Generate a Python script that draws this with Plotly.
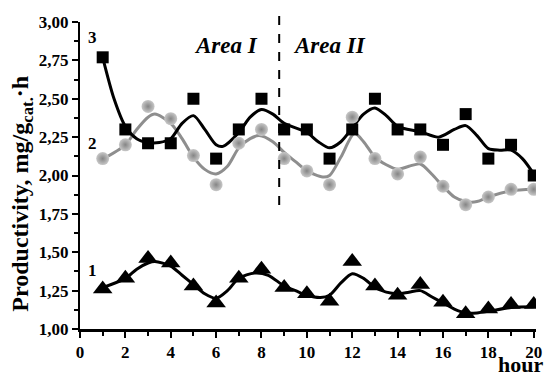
import plotly.graph_objects as go

hours = list(range(1, 21))
s3_vals = [2.77, 2.30, 2.21, 2.21, 2.50, 2.11, 2.30, 2.50, 2.30, 2.30,
           2.11, 2.30, 2.50, 2.30, 2.30, 2.20, 2.40, 2.11, 2.20, 2.00]
s2_vals = [2.11, 2.20, 2.45, 2.37, 2.13, 1.94, 2.21, 2.30, 2.11, 2.03,
           1.94, 2.38, 2.11, 2.01, 2.12, 1.93, 1.81, 1.86, 1.91, 1.91]
s1_vals = [1.26, 1.33, 1.46, 1.43, 1.28, 1.17, 1.33, 1.39, 1.27, 1.23,
           1.18, 1.44, 1.28, 1.22, 1.29, 1.175, 1.10, 1.13, 1.16, 1.16]

c3_x = [1, 1.5, 2, 2.5, 3, 3.5, 4, 4.5, 5, 5.5, 6, 6.3, 7, 7.5, 8, 8.5, 9, 10, 10.5, 11,
        11.5, 12, 12.5, 13, 13.5, 14, 15, 15.8, 16.5, 17, 17.5, 18, 18.5, 19, 19.5, 20]
c3_y = [2.77, 2.50, 2.32, 2.24, 2.215, 2.215, 2.24, 2.34, 2.39, 2.30, 2.20, 2.19, 2.28, 2.38,
        2.43, 2.40, 2.34, 2.28, 2.22, 2.18, 2.22, 2.31, 2.40, 2.44, 2.39, 2.32, 2.285, 2.25,
        2.30, 2.325, 2.26, 2.175, 2.165, 2.165, 2.11, 2.01]

c2_x = [1, 2, 2.5, 3, 3.3, 4, 4.5, 5, 5.5, 6, 6.5, 7, 7.5, 7.9, 8.5, 9, 9.5, 10, 10.7, 11,
        11.5, 12.1, 12.5, 13, 13.5, 14, 14.5, 15, 15.5, 16, 16.5, 17, 17.5, 18, 19, 20]
c2_y = [2.107, 2.20, 2.30, 2.38, 2.40, 2.34, 2.24, 2.12, 2.04, 2.01, 2.06, 2.18, 2.24, 2.26,
        2.22, 2.15, 2.09, 2.03, 1.99, 2.00, 2.12, 2.275, 2.22, 2.12, 2.07, 2.04, 2.06, 2.075,
        2.01, 1.93, 1.86, 1.83, 1.83, 1.86, 1.90, 1.91]

c1_x = [1, 2, 2.5, 3, 3.3, 4, 4.5, 5, 5.5, 6, 6.5, 7, 7.7, 8.3, 9, 9.5, 10, 10.6, 11, 11.5,
        12, 12.5, 13, 13.5, 14, 14.5, 15, 15.5, 16, 16.5, 17, 17.5, 18, 19, 20]
c1_y = [1.27, 1.33, 1.39, 1.43, 1.44, 1.41, 1.35, 1.29, 1.23, 1.20, 1.25, 1.33, 1.365, 1.35,
        1.28, 1.25, 1.22, 1.205, 1.22, 1.30, 1.36, 1.33, 1.27, 1.24, 1.23, 1.24, 1.25, 1.21,
        1.17, 1.13, 1.105, 1.105, 1.115, 1.14, 1.145]

divider_x = 8.78

serif = "Liberation Serif"
fig = go.Figure()

fig.add_trace(go.Scatter(x=c2_x, y=c2_y, mode="lines", line=dict(color="#8e8e8e", width=3, shape="spline", smoothing=0.8), hoverinfo="skip"))
fig.add_trace(go.Scatter(x=c3_x, y=c3_y, mode="lines", line=dict(color="black", width=3, shape="spline", smoothing=0.8), hoverinfo="skip"))
fig.add_trace(go.Scatter(x=c1_x, y=c1_y, mode="lines", line=dict(color="black", width=3, shape="spline", smoothing=0.8), hoverinfo="skip"))

fig.add_trace(go.Scatter(x=hours, y=s2_vals, mode="markers",
                         marker=dict(symbol="circle", size=13, color="#c8c8c8",
                                     gradient=dict(type="radial", color="#858585"),
                                     line=dict(width=0))))
fig.add_trace(go.Scatter(x=hours, y=s3_vals, mode="markers",
                         marker=dict(symbol="square", size=12, color="black", line=dict(width=0))))
fig.add_trace(go.Scatter(x=hours, y=s1_vals, mode="markers",
                         marker=dict(symbol="triangle-up", size=17, color="black", line=dict(width=0))))

fig.add_shape(type="line", xref="x", yref="paper", x0=divider_x, x1=divider_x, y0=0.404, y1=1.023,
              line=dict(color="black", width=2, dash="dash"))

bold = dict(family=serif, size=17, color="black", weight="bold")
anns = [
    dict(x=0.57, y=2.90, text="3", xref="x", yref="y", showarrow=False, font=bold),
    dict(x=0.57, y=2.21, text="2", xref="x", yref="y", showarrow=False, font=bold),
    dict(x=0.57, y=1.38, text="1", xref="x", yref="y", showarrow=False, font=bold),
    dict(x=6.43, y=2.85, text="<i>Area I</i>", xref="x", yref="y", showarrow=False,
         font=dict(family=serif, size=23, color="black", weight="bold")),
    dict(x=11.0, y=2.85, text="<i>Area II</i>", xref="x", yref="y", showarrow=False,
         font=dict(family=serif, size=23, color="black", weight="bold")),
    dict(x=1.02, y=-0.116, text="hour", xref="paper", yref="paper", xanchor="right", yanchor="middle",
         showarrow=False, font=dict(family=serif, size=22, color="black", weight="bold")),
    dict(x=-0.165, y=0.44, text="Productivity, mg/g<sub>cat.</sub>·h", xref="paper", yref="paper",
         textangle=-90, showarrow=False, font=dict(family=serif, size=24, color="black", weight="bold")),
]
fig.update_layout(annotations=anns)

fig.update_xaxes(range=[0, 20.1], tickmode="linear", tick0=0, dtick=2,
                 showline=True, linecolor="black", linewidth=2.5, mirror=False,
                 ticks="outside", ticklen=6, tickwidth=2, tickcolor="black",
                 minor=dict(ticks="outside", ticklen=4, tickwidth=1.5, tickcolor="black", dtick=1, showgrid=False),
                 showgrid=False, zeroline=False,
                 tickfont=dict(family=serif, size=17, color="black", weight="bold"))
fig.update_yaxes(range=[1, 3], tickmode="linear", tick0=1, dtick=0.25, tickformat=".2f",
                 showline=True, linecolor="black", linewidth=2, mirror=False,
                 ticks="outside", ticklen=6, tickwidth=2, tickcolor="black",
                 minor=dict(ticks="outside", ticklen=4, tickwidth=1.5, tickcolor="black", dtick=0.125, showgrid=False),
                 showgrid=False, zeroline=False,
                 tickfont=dict(family=serif, size=17, color="black", weight="bold"))

fig.update_layout(width=551, height=376, margin=dict(l=80, r=9, t=22, b=47),
                  plot_bgcolor="white", paper_bgcolor="white", showlegend=False,
                  separators=", ")

fig.write_html("out.html", config={"displayModeBar": False},
               post_script="document.body.style.margin='0px';document.body.style.overflow='hidden';")
